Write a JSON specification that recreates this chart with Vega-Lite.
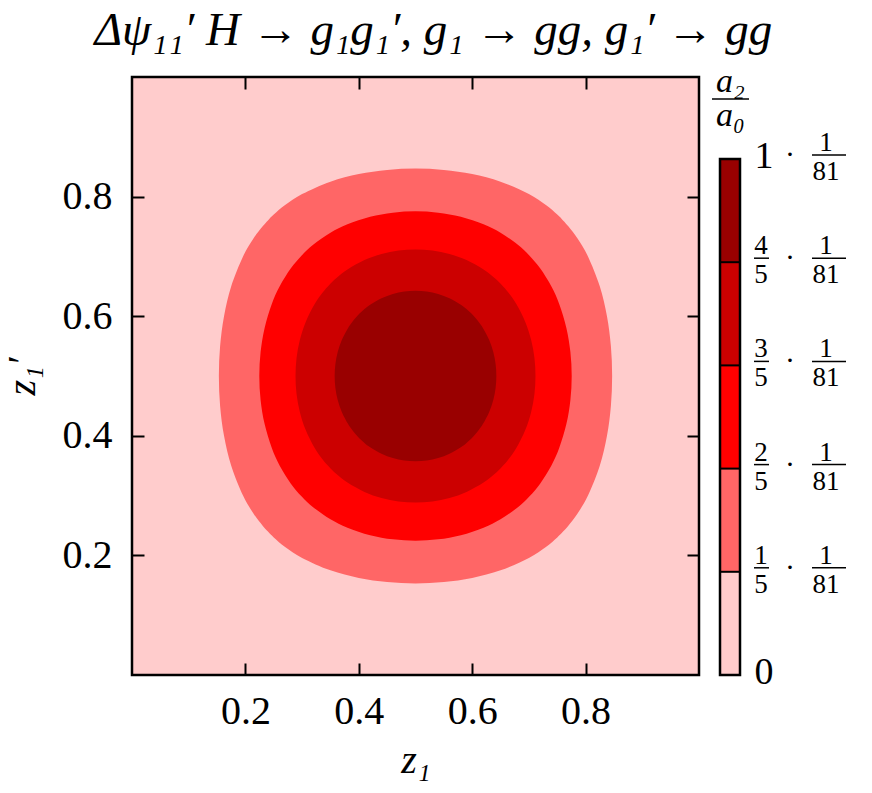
{
  "$schema": "https://vega.github.io/schema/vega-lite/v6.json",
  "padding": {"left": 0, "right": 5, "top": 6, "bottom": 5},
  "background": "white",
  "title": {"text": "Δψ₁₁′ H → g₁g₁′, g₁ → gg, g₁′ → gg", "font": "Liberation Serif", "fontStyle": "italic", "fontWeight": "normal", "fontSize": 47, "color": "black", "anchor": "middle", "offset": 10, "dx": 8},
  "config": {"view": {"stroke": "black", "strokeWidth": 2.5}},
  "bounds": "flush",
  "spacing": 21,
  "resolve": {"scale": {"color": "independent"}},
  "datasets": {
    "contours": [
      {"level":1,"i":1,"z1":0.5,"z2":0.8468},{"level":1,"i":2,"z1":0.55,"z2":0.8446},{"level":1,"i":3,"z1":0.6,"z2":0.8377},{"level":1,"i":4,"z1":0.65,"z2":0.825},{"level":1,"i":5,"z1":0.7,"z2":0.8042},{"level":1,"i":6,"z1":0.73,"z2":0.7858},{"level":1,"i":7,"z1":0.75,"z2":0.7699},{"level":1,"i":8,"z1":0.7602,"z2":0.7602},{"level":1,"i":9,"z1":0.7699,"z2":0.75},{"level":1,"i":10,"z1":0.7858,"z2":0.73},{"level":1,"i":11,"z1":0.8042,"z2":0.7},{"level":1,"i":12,"z1":0.825,"z2":0.65},{"level":1,"i":13,"z1":0.8377,"z2":0.6},{"level":1,"i":14,"z1":0.8446,"z2":0.55},{"level":1,"i":15,"z1":0.8468,"z2":0.5},{"level":1,"i":16,"z1":0.8446,"z2":0.45},{"level":1,"i":17,"z1":0.8377,"z2":0.4},{"level":1,"i":18,"z1":0.825,"z2":0.35},{"level":1,"i":19,"z1":0.8042,"z2":0.3},{"level":1,"i":20,"z1":0.7858,"z2":0.27},{"level":1,"i":21,"z1":0.7699,"z2":0.25},{"level":1,"i":22,"z1":0.7602,"z2":0.2398},{"level":1,"i":23,"z1":0.75,"z2":0.2301},{"level":1,"i":24,"z1":0.73,"z2":0.2142},{"level":1,"i":25,"z1":0.7,"z2":0.1958},{"level":1,"i":26,"z1":0.65,"z2":0.175},{"level":1,"i":27,"z1":0.6,"z2":0.1623},{"level":1,"i":28,"z1":0.55,"z2":0.1554},{"level":1,"i":29,"z1":0.5,"z2":0.1532},{"level":1,"i":30,"z1":0.45,"z2":0.1554},{"level":1,"i":31,"z1":0.4,"z2":0.1623},{"level":1,"i":32,"z1":0.35,"z2":0.175},{"level":1,"i":33,"z1":0.3,"z2":0.1958},{"level":1,"i":34,"z1":0.27,"z2":0.2142},{"level":1,"i":35,"z1":0.25,"z2":0.2301},{"level":1,"i":36,"z1":0.2398,"z2":0.2398},{"level":1,"i":37,"z1":0.2301,"z2":0.25},{"level":1,"i":38,"z1":0.2142,"z2":0.27},{"level":1,"i":39,"z1":0.1958,"z2":0.3},{"level":1,"i":40,"z1":0.175,"z2":0.35},{"level":1,"i":41,"z1":0.1623,"z2":0.4},{"level":1,"i":42,"z1":0.1554,"z2":0.45},{"level":1,"i":43,"z1":0.1532,"z2":0.5},{"level":1,"i":44,"z1":0.1554,"z2":0.55},{"level":1,"i":45,"z1":0.1623,"z2":0.6},{"level":1,"i":46,"z1":0.175,"z2":0.65},{"level":1,"i":47,"z1":0.1958,"z2":0.7},{"level":1,"i":48,"z1":0.2142,"z2":0.73},{"level":1,"i":49,"z1":0.2301,"z2":0.75},{"level":1,"i":50,"z1":0.2398,"z2":0.7602},{"level":1,"i":51,"z1":0.25,"z2":0.7699},{"level":1,"i":52,"z1":0.27,"z2":0.7858},{"level":1,"i":53,"z1":0.3,"z2":0.8042},{"level":1,"i":54,"z1":0.35,"z2":0.825},{"level":1,"i":55,"z1":0.4,"z2":0.8377},{"level":1,"i":56,"z1":0.45,"z2":0.8446},
      {"level":2,"i":1,"z1":0.5,"z2":0.7755},{"level":2,"i":2,"z1":0.54,"z2":0.7732},{"level":2,"i":3,"z1":0.58,"z2":0.7662},{"level":2,"i":4,"z1":0.62,"z2":0.7536},{"level":2,"i":5,"z1":0.65,"z2":0.7395},{"level":2,"i":6,"z1":0.68,"z2":0.7198},{"level":2,"i":7,"z1":0.7011,"z2":0.7011},{"level":2,"i":8,"z1":0.7198,"z2":0.68},{"level":2,"i":9,"z1":0.7395,"z2":0.65},{"level":2,"i":10,"z1":0.7536,"z2":0.62},{"level":2,"i":11,"z1":0.7662,"z2":0.58},{"level":2,"i":12,"z1":0.7732,"z2":0.54},{"level":2,"i":13,"z1":0.7755,"z2":0.5},{"level":2,"i":14,"z1":0.7732,"z2":0.46},{"level":2,"i":15,"z1":0.7662,"z2":0.42},{"level":2,"i":16,"z1":0.7536,"z2":0.38},{"level":2,"i":17,"z1":0.7395,"z2":0.35},{"level":2,"i":18,"z1":0.7198,"z2":0.32},{"level":2,"i":19,"z1":0.7011,"z2":0.2989},{"level":2,"i":20,"z1":0.68,"z2":0.2802},{"level":2,"i":21,"z1":0.65,"z2":0.2605},{"level":2,"i":22,"z1":0.62,"z2":0.2464},{"level":2,"i":23,"z1":0.58,"z2":0.2338},{"level":2,"i":24,"z1":0.54,"z2":0.2268},{"level":2,"i":25,"z1":0.5,"z2":0.2245},{"level":2,"i":26,"z1":0.46,"z2":0.2268},{"level":2,"i":27,"z1":0.42,"z2":0.2338},{"level":2,"i":28,"z1":0.38,"z2":0.2464},{"level":2,"i":29,"z1":0.35,"z2":0.2605},{"level":2,"i":30,"z1":0.32,"z2":0.2802},{"level":2,"i":31,"z1":0.2989,"z2":0.2989},{"level":2,"i":32,"z1":0.2802,"z2":0.32},{"level":2,"i":33,"z1":0.2605,"z2":0.35},{"level":2,"i":34,"z1":0.2464,"z2":0.38},{"level":2,"i":35,"z1":0.2338,"z2":0.42},{"level":2,"i":36,"z1":0.2268,"z2":0.46},{"level":2,"i":37,"z1":0.2245,"z2":0.5},{"level":2,"i":38,"z1":0.2268,"z2":0.54},{"level":2,"i":39,"z1":0.2338,"z2":0.58},{"level":2,"i":40,"z1":0.2464,"z2":0.62},{"level":2,"i":41,"z1":0.2605,"z2":0.65},{"level":2,"i":42,"z1":0.2802,"z2":0.68},{"level":2,"i":43,"z1":0.2989,"z2":0.7011},{"level":2,"i":44,"z1":0.32,"z2":0.7198},{"level":2,"i":45,"z1":0.35,"z2":0.7395},{"level":2,"i":46,"z1":0.38,"z2":0.7536},{"level":2,"i":47,"z1":0.42,"z2":0.7662},{"level":2,"i":48,"z1":0.46,"z2":0.7732},
      {"level":3,"i":1,"z1":0.5,"z2":0.7116},{"level":3,"i":2,"z1":0.53,"z2":0.7098},{"level":3,"i":3,"z1":0.56,"z2":0.704},{"level":3,"i":4,"z1":0.59,"z2":0.6938},{"level":3,"i":5,"z1":0.62,"z2":0.6781},{"level":3,"i":6,"z1":0.64,"z2":0.6634},{"level":3,"i":7,"z1":0.6522,"z2":0.6522},{"level":3,"i":8,"z1":0.6634,"z2":0.64},{"level":3,"i":9,"z1":0.6781,"z2":0.62},{"level":3,"i":10,"z1":0.6938,"z2":0.59},{"level":3,"i":11,"z1":0.704,"z2":0.56},{"level":3,"i":12,"z1":0.7098,"z2":0.53},{"level":3,"i":13,"z1":0.7116,"z2":0.5},{"level":3,"i":14,"z1":0.7098,"z2":0.47},{"level":3,"i":15,"z1":0.704,"z2":0.44},{"level":3,"i":16,"z1":0.6938,"z2":0.41},{"level":3,"i":17,"z1":0.6781,"z2":0.38},{"level":3,"i":18,"z1":0.6634,"z2":0.36},{"level":3,"i":19,"z1":0.6522,"z2":0.3478},{"level":3,"i":20,"z1":0.64,"z2":0.3366},{"level":3,"i":21,"z1":0.62,"z2":0.3219},{"level":3,"i":22,"z1":0.59,"z2":0.3062},{"level":3,"i":23,"z1":0.56,"z2":0.296},{"level":3,"i":24,"z1":0.53,"z2":0.2902},{"level":3,"i":25,"z1":0.5,"z2":0.2884},{"level":3,"i":26,"z1":0.47,"z2":0.2902},{"level":3,"i":27,"z1":0.44,"z2":0.296},{"level":3,"i":28,"z1":0.41,"z2":0.3062},{"level":3,"i":29,"z1":0.38,"z2":0.3219},{"level":3,"i":30,"z1":0.36,"z2":0.3366},{"level":3,"i":31,"z1":0.3478,"z2":0.3478},{"level":3,"i":32,"z1":0.3366,"z2":0.36},{"level":3,"i":33,"z1":0.3219,"z2":0.38},{"level":3,"i":34,"z1":0.3062,"z2":0.41},{"level":3,"i":35,"z1":0.296,"z2":0.44},{"level":3,"i":36,"z1":0.2902,"z2":0.47},{"level":3,"i":37,"z1":0.2884,"z2":0.5},{"level":3,"i":38,"z1":0.2902,"z2":0.53},{"level":3,"i":39,"z1":0.296,"z2":0.56},{"level":3,"i":40,"z1":0.3062,"z2":0.59},{"level":3,"i":41,"z1":0.3219,"z2":0.62},{"level":3,"i":42,"z1":0.3366,"z2":0.64},{"level":3,"i":43,"z1":0.3478,"z2":0.6522},{"level":3,"i":44,"z1":0.36,"z2":0.6634},{"level":3,"i":45,"z1":0.38,"z2":0.6781},{"level":3,"i":46,"z1":0.41,"z2":0.6938},{"level":3,"i":47,"z1":0.44,"z2":0.704},{"level":3,"i":48,"z1":0.47,"z2":0.7098},
      {"level":4,"i":1,"z1":0.5,"z2":0.6426},{"level":4,"i":2,"z1":0.52,"z2":0.6413},{"level":4,"i":3,"z1":0.54,"z2":0.6372},{"level":4,"i":4,"z1":0.56,"z2":0.63},{"level":4,"i":5,"z1":0.58,"z2":0.6191},{"level":4,"i":6,"z1":0.59,"z2":0.6119},{"level":4,"i":7,"z1":0.6016,"z2":0.6016},{"level":4,"i":8,"z1":0.6119,"z2":0.59},{"level":4,"i":9,"z1":0.6191,"z2":0.58},{"level":4,"i":10,"z1":0.63,"z2":0.56},{"level":4,"i":11,"z1":0.6372,"z2":0.54},{"level":4,"i":12,"z1":0.6413,"z2":0.52},{"level":4,"i":13,"z1":0.6426,"z2":0.5},{"level":4,"i":14,"z1":0.6413,"z2":0.48},{"level":4,"i":15,"z1":0.6372,"z2":0.46},{"level":4,"i":16,"z1":0.63,"z2":0.44},{"level":4,"i":17,"z1":0.6191,"z2":0.42},{"level":4,"i":18,"z1":0.6119,"z2":0.41},{"level":4,"i":19,"z1":0.6016,"z2":0.3984},{"level":4,"i":20,"z1":0.59,"z2":0.3881},{"level":4,"i":21,"z1":0.58,"z2":0.3809},{"level":4,"i":22,"z1":0.56,"z2":0.37},{"level":4,"i":23,"z1":0.54,"z2":0.3628},{"level":4,"i":24,"z1":0.52,"z2":0.3587},{"level":4,"i":25,"z1":0.5,"z2":0.3574},{"level":4,"i":26,"z1":0.48,"z2":0.3587},{"level":4,"i":27,"z1":0.46,"z2":0.3628},{"level":4,"i":28,"z1":0.44,"z2":0.37},{"level":4,"i":29,"z1":0.42,"z2":0.3809},{"level":4,"i":30,"z1":0.41,"z2":0.3881},{"level":4,"i":31,"z1":0.3984,"z2":0.3984},{"level":4,"i":32,"z1":0.3881,"z2":0.41},{"level":4,"i":33,"z1":0.3809,"z2":0.42},{"level":4,"i":34,"z1":0.37,"z2":0.44},{"level":4,"i":35,"z1":0.3628,"z2":0.46},{"level":4,"i":36,"z1":0.3587,"z2":0.48},{"level":4,"i":37,"z1":0.3574,"z2":0.5},{"level":4,"i":38,"z1":0.3587,"z2":0.52},{"level":4,"i":39,"z1":0.3628,"z2":0.54},{"level":4,"i":40,"z1":0.37,"z2":0.56},{"level":4,"i":41,"z1":0.3809,"z2":0.58},{"level":4,"i":42,"z1":0.3881,"z2":0.59},{"level":4,"i":43,"z1":0.3984,"z2":0.6016},{"level":4,"i":44,"z1":0.41,"z2":0.6119},{"level":4,"i":45,"z1":0.42,"z2":0.6191},{"level":4,"i":46,"z1":0.44,"z2":0.63},{"level":4,"i":47,"z1":0.46,"z2":0.6372},{"level":4,"i":48,"z1":0.48,"z2":0.6413}
    ],
    "bands": [
      {"band":0,"lo":0,"hi":0.2},{"band":1,"lo":0.2,"hi":0.4},{"band":2,"lo":0.4,"hi":0.6},{"band":3,"lo":0.6,"hi":0.8},{"band":4,"lo":0.8,"hi":1}
    ],
    "cbticks": [
      {"v":0,"lead":"0"},{"v":0.2,"num":"1"},{"v":0.4,"num":"2"},{"v":0.6,"num":"3"},{"v":0.8,"num":"4"},{"v":1,"lead":"1"}
    ]
  },
  "hconcat": [
    {
      "width": 567,
      "height": 598,
      "view": {"fill": "#ffcccc", "stroke": "black", "strokeWidth": 2.5},
      "data": {"name": "contours"},
      "layer": [
        {
          "transform": [{"filter": "datum.level == 1"}],
          "mark": {"type": "line", "filled": true, "interpolate": "cardinal-closed"},
          "encoding": {
            "x": {"field": "z1", "type": "quantitative", "scale": {"domain": [0, 1], "nice": false, "zero": false},
              "axis": {"orient": "bottom", "values": [0.2, 0.4, 0.6, 0.8], "format": ".1f", "domain": false, "grid": false, "ticks": true, "tickSize": -12, "tickWidth": 2, "tickColor": "black", "labelPadding": 28, "labelFont": "Liberation Serif", "labelFontSize": 40, "labelColor": "black", "title": "z₁", "titleFont": "Liberation Serif", "titleFontStyle": "italic", "titleFontWeight": "normal", "titleFontSize": 40, "titleColor": "black", "titlePadding": 9}},
            "y": {"field": "z2", "type": "quantitative", "scale": {"domain": [0, 1], "nice": false, "zero": false},
              "axis": {"orient": "left", "values": [0.2, 0.4, 0.6, 0.8], "format": ".1f", "domain": false, "grid": false, "ticks": true, "tickSize": -12, "tickWidth": 2, "tickColor": "black", "labelPadding": 32, "labelFont": "Liberation Serif", "labelFontSize": 40, "labelColor": "black", "title": "z₁′", "titleFont": "Liberation Serif", "titleFontStyle": "italic", "titleFontWeight": "normal", "titleFontSize": 40, "titleColor": "black", "titlePadding": 20}},
            "order": {"field": "i", "type": "quantitative"},
            "color": {"field": "level", "type": "ordinal", "scale": {"domain": [1, 2, 3, 4], "range": ["#ff6666", "#ff0000", "#cc0000", "#990000"]}, "legend": null}
          }
        },
        {
          "transform": [{"filter": "datum.level == 2"}],
          "mark": {"type": "line", "filled": true, "interpolate": "cardinal-closed"},
          "encoding": {
            "x": {"field": "z1", "type": "quantitative", "axis": null},
            "y": {"field": "z2", "type": "quantitative", "axis": null},
            "order": {"field": "i", "type": "quantitative"},
            "color": {"field": "level", "type": "ordinal", "legend": null}
          }
        },
        {
          "transform": [{"filter": "datum.level == 3"}],
          "mark": {"type": "line", "filled": true, "interpolate": "cardinal-closed"},
          "encoding": {
            "x": {"field": "z1", "type": "quantitative", "axis": null},
            "y": {"field": "z2", "type": "quantitative", "axis": null},
            "order": {"field": "i", "type": "quantitative"},
            "color": {"field": "level", "type": "ordinal", "legend": null}
          }
        },
        {
          "transform": [{"filter": "datum.level == 4"}],
          "mark": {"type": "line", "filled": true, "interpolate": "cardinal-closed"},
          "encoding": {
            "x": {"field": "z1", "type": "quantitative", "axis": null},
            "y": {"field": "z2", "type": "quantitative", "axis": null},
            "order": {"field": "i", "type": "quantitative"},
            "color": {"field": "level", "type": "ordinal", "legend": null}
          }
        },
        {
          "transform": [{"filter": "datum.level == 4"}],
          "mark": {"type": "point", "opacity": 0},
          "encoding": {
            "x": {"field": "z1", "type": "quantitative", "axis": {"orient": "top", "values": [0.2, 0.4, 0.6, 0.8], "labels": false, "domain": false, "grid": false, "tickSize": -12, "tickWidth": 2, "tickColor": "black", "title": null}},
            "y": {"field": "z2", "type": "quantitative", "axis": {"orient": "right", "values": [0.2, 0.4, 0.6, 0.8], "labels": false, "domain": false, "grid": false, "tickSize": -12, "tickWidth": 2, "tickColor": "black", "title": null}}
          }
        }
      ],
      "resolve": {"axis": {"x": "independent", "y": "independent"}}
    },
    {
      "width": 130,
      "height": 598,
      "view": {"stroke": null},
      "layer": [
        {
          "data": {"name": "bands"},
          "mark": {"type": "rect"},
          "encoding": {
            "x": {"datum": 0, "type": "quantitative", "scale": {"domain": [0, 6.5], "nice": false, "zero": false}, "axis": null},
            "x2": {"datum": 1},
            "y": {"field": "lo", "type": "quantitative", "scale": {"domain": [0, 1.1589], "nice": false, "zero": false}, "axis": null},
            "y2": {"field": "hi"},
            "color": {"field": "band", "type": "ordinal", "scale": {"domain": [0, 1, 2, 3, 4], "range": ["#ffcccc", "#ff6666", "#ff0000", "#cc0000", "#990000"]}, "legend": null}
          }
        },
        {
          "data": {"name": "cbticks"},
          "transform": [{"filter": "datum.v > 0 && datum.v < 1"}],
          "mark": {"type": "rule", "color": "black", "strokeWidth": 2},
          "encoding": {
            "x": {"datum": 0, "type": "quantitative"},
            "x2": {"datum": 1},
            "y": {"field": "v", "type": "quantitative"}
          }
        },
        {
          "data": {"values": [{"box": "colorbar"}]},
          "mark": {"type": "rect", "fill": null, "fillOpacity": 0, "stroke": "black", "strokeWidth": 2.5},
          "encoding": {
            "x": {"datum": 0, "type": "quantitative"},
            "x2": {"datum": 1},
            "y": {"datum": 0, "type": "quantitative"},
            "y2": {"datum": 1}
          }
        },
        {
          "data": {"name": "cbticks"},
          "transform": [{"filter": "isValid(datum.num)"}],
          "mark": {"type": "text", "font": "Liberation Serif", "fontSize": 27, "color": "black", "align": "center", "baseline": "alphabetic", "dy": -8},
          "encoding": {
            "x": {"datum": 2.05, "type": "quantitative"},
            "y": {"field": "v", "type": "quantitative"},
            "text": {"field": "num"}
          }
        },
        {
          "data": {"name": "cbticks"},
          "transform": [{"filter": "isValid(datum.num)"}],
          "mark": {"type": "text", "font": "Liberation Serif", "fontSize": 27, "color": "black", "align": "center", "baseline": "alphabetic", "dy": 21},
          "encoding": {
            "x": {"datum": 2.05, "type": "quantitative"},
            "y": {"field": "v", "type": "quantitative"},
            "text": {"value": "5"}
          }
        },
        {
          "data": {"name": "cbticks"},
          "transform": [{"filter": "isValid(datum.num)"}],
          "mark": {"type": "rule", "color": "black", "strokeWidth": 1.5, "yOffset": -4},
          "encoding": {
            "x": {"datum": 1.7, "type": "quantitative"},
            "x2": {"datum": 2.45},
            "y": {"field": "v", "type": "quantitative"}
          }
        },
        {
          "data": {"name": "cbticks"},
          "transform": [{"filter": "isValid(datum.lead)"}],
          "mark": {"type": "text", "font": "Liberation Serif", "fontSize": 38, "color": "black", "align": "center", "baseline": "middle", "dy": -2},
          "encoding": {
            "x": {"datum": 2.2, "type": "quantitative"},
            "y": {"field": "v", "type": "quantitative"},
            "text": {"field": "lead"}
          }
        },
        {
          "data": {"name": "cbticks"},
          "transform": [{"filter": "datum.v > 0"}],
          "mark": {"type": "text", "font": "Liberation Serif", "fontSize": 30, "color": "black", "align": "center", "baseline": "alphabetic", "dy": 5},
          "encoding": {
            "x": {"datum": 3.5, "type": "quantitative"},
            "y": {"field": "v", "type": "quantitative"},
            "text": {"value": "·"}
          }
        },
        {
          "data": {"name": "cbticks"},
          "transform": [{"filter": "datum.v > 0"}],
          "mark": {"type": "text", "font": "Liberation Serif", "fontSize": 27, "color": "black", "align": "center", "baseline": "alphabetic", "dy": -8},
          "encoding": {
            "x": {"datum": 5.3, "type": "quantitative"},
            "y": {"field": "v", "type": "quantitative"},
            "text": {"value": "1"}
          }
        },
        {
          "data": {"name": "cbticks"},
          "transform": [{"filter": "datum.v > 0"}],
          "mark": {"type": "text", "font": "Liberation Serif", "fontSize": 27, "color": "black", "align": "center", "baseline": "alphabetic", "dy": 21},
          "encoding": {
            "x": {"datum": 5.3, "type": "quantitative"},
            "y": {"field": "v", "type": "quantitative"},
            "text": {"value": "81"}
          }
        },
        {
          "data": {"name": "cbticks"},
          "transform": [{"filter": "datum.v > 0"}],
          "mark": {"type": "rule", "color": "black", "strokeWidth": 1.5, "yOffset": -4},
          "encoding": {
            "x": {"datum": 4.6, "type": "quantitative"},
            "x2": {"datum": 6.3},
            "y": {"field": "v", "type": "quantitative"}
          }
        },
        {
          "data": {"values": [{"part": "a₂"}]},
          "mark": {"type": "text", "font": "Liberation Serif", "fontStyle": "italic", "fontSize": 34, "color": "black", "align": "center", "baseline": "alphabetic", "dy": -7},
          "encoding": {
            "x": {"datum": 0.525, "type": "quantitative"},
            "y": {"datum": 1.1163, "type": "quantitative"},
            "text": {"field": "part"}
          }
        },
        {
          "data": {"values": [{"part": "a₀"}]},
          "mark": {"type": "text", "font": "Liberation Serif", "fontStyle": "italic", "fontSize": 34, "color": "black", "align": "center", "baseline": "alphabetic", "dy": 27},
          "encoding": {
            "x": {"datum": 0.525, "type": "quantitative"},
            "y": {"datum": 1.1163, "type": "quantitative"},
            "text": {"field": "part"}
          }
        },
        {
          "data": {"values": [{"part": "bar"}]},
          "mark": {"type": "rule", "color": "black", "strokeWidth": 1.5},
          "encoding": {
            "x": {"datum": -0.4, "type": "quantitative"},
            "x2": {"datum": 1.45},
            "y": {"datum": 1.1163, "type": "quantitative"}
          }
        }
      ]
    }
  ]
}
